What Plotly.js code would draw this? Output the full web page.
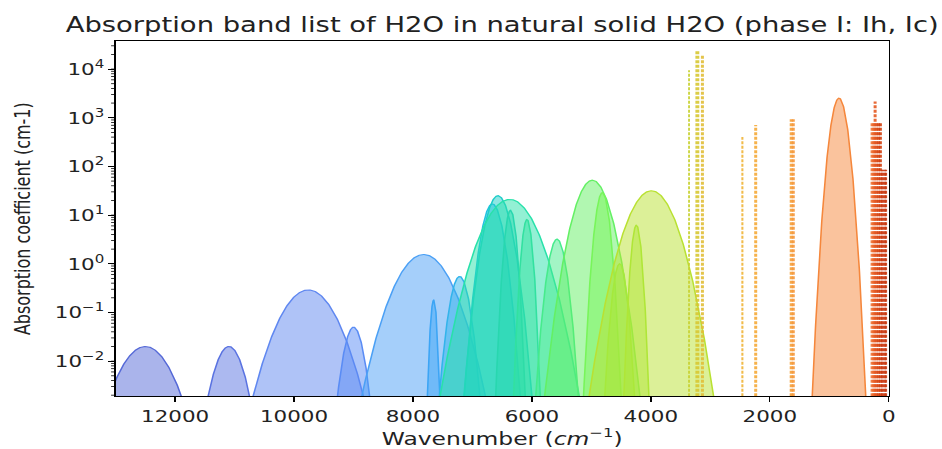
<!DOCTYPE html>
<html><head><meta charset="utf-8">
<script src="https://cdn.plot.ly/plotly-3.0.1.min.js"></script>
<style>
html,body{margin:0;padding:0;background:#fff;overflow:hidden;}
#wrap{width:942px;height:449px;overflow:hidden;}
#chart{width:725px;height:449px;transform:scaleX(1.29931);transform-origin:0 0;}
</style></head><body><div id="wrap"><div id="chart"></div></div>
<script>
// Band list (center wavenumber cm-1, peak absorption coefficient cm-1, half width at half max cm-1)
const bandCenter = [12500, 11095, 9760, 8998, 7820, 7652, 7215, 6665, 6571, 6374, 6360, 6083, 5578, 4984, 4815, 4524, 4243, 3991, 836];
const bandPeak   = [0.02, 0.02, 0.29, 0.05, 1.55, 0.18, 0.55, 17, 25, 21, 12.6, 8.1, 3.2, 52, 29, 1.0, 6.2, 31.6, 2520];
const bandHWHM   = [330, 190, 345, 125, 335, 42, 120, 130, 155, 320, 70, 65, 110, 209, 85, 84, 62, 280, 100];
// Narrow bands drawn as vertical lines
const lineCenter = [3358, 3218, 3133, 2461, 2237, 1640, 1605, 280, 250, 229, 200, 170, 140, 115, 90, 65, 45];
const linePeak   = [9400, 25000, 19700, 400, 713, 935, 935, 830, 830, 2150, 830, 830, 830, 85, 85, 85, 85];

const xTickVals = [0, 2000, 4000, 6000, 8000, 10000, 12000];
const xTickText = ['0', '2000', '4000', '6000', '8000', '10000', '12000'];
const yTickVals = [1e-2, 1e-1, 1, 10, 100, 1000, 10000];
const yTickText = ['10<sup>−2</sup>', '10<sup>−1</sup>', '10<sup>0</sup>', '10<sup>1</sup>', '10<sup>2</sup>', '10<sup>3</sup>', '10<sup>4</sup>'];

// styles
const bandColor = ['#5569d7', '#5a73e1', '#5f87f0', '#5a8cf5', '#4ba0f5', '#3ca5f5', '#32b4eb', '#23c3e1', '#1ecdc8', '#28e1aa', '#28d7af', '#32e1a0', '#46eb8c', '#64f064', '#78f55a', '#91f046', '#a5eb3c', '#b9e132', '#f5873c'];
const lineColor = ['#c8d232', '#d7c832', '#e1be37', '#f0b437', '#f5aa37', '#f5a037', '#f59637', '#f07030', '#eb6428', '#e45a22', '#dc4e1a', '#d74614', '#d2400f', '#c8370f', '#c8370f', '#c8370f', '#c8370f'];
const lineW = [1.5, 3, 2.3, 1.6, 2.3, 2.3, 2.3, 2.3, 2.3, 2.3, 2.3, 2.3, 2.3, 1.6, 1.6, 1.6, 1.6];

const FLOOR = 1e-3, N = 260;
function rgba(hex, a) {
  const r = parseInt(hex.slice(1, 3), 16), g = parseInt(hex.slice(3, 5), 16), b = parseInt(hex.slice(5, 7), 16);
  return `rgba(${r},${g},${b},${a})`;
}
const traces = [];
bandCenter.forEach((c, i) => {
  const A = bandPeak[i], w = bandHWHM[i];
  const ext = w * Math.sqrt(Math.log(A / FLOOR) / Math.LN2);
  const xs = [], ys = [];
  for (let k = 0; k <= N; k++) {
    const x = c - ext + 2 * ext * k / N;
    const d = (x - c) / w;
    xs.push(x);
    ys.push(A * Math.exp(-Math.LN2 * d * d));
  }
  traces.push({x: xs, y: ys, type: 'scatter', mode: 'lines', fill: 'toself',
    fillcolor: rgba(bandColor[i], 0.5), line: {color: bandColor[i], width: 1.2},
    hoverinfo: 'skip', showlegend: false});
});
lineCenter.forEach((c, i) => {
  traces.push({x: [c, c], y: [FLOOR, linePeak[i]], type: 'scatter', mode: 'lines',
    line: {color: lineColor[i], width: lineW[i], dash: '3px,1.5px'}, opacity: 0.9,
    hoverinfo: 'skip', showlegend: false});
});

const font = 'DejaVu Sans, sans-serif';
const layout = {
  width: 725, height: 449,
  margin: {l: 89, r: 41, t: 41, b: 53},
  paper_bgcolor: '#fff', plot_bgcolor: '#fff',
  font: {family: font, size: 16.5, color: '#222'},
  title: {text: 'Absorption band list of H2O in natural solid H2O (phase I: Ih, Ic)',
    font: {family: font, size: 21.1, color: '#222'}, xref: 'paper', x: 0.5, xanchor: 'center',
    yref: 'container', y: 1 - 25 / 449, yanchor: 'middle'},
  xaxis: {range: [13000, 0], tickmode: 'array', tickvals: xTickVals, ticktext: xTickText,
    ticks: 'outside', ticklen: 5, tickwidth: 1, tickcolor: '#000',
    showline: true, linecolor: '#000', linewidth: 1, mirror: true, showgrid: false, zeroline: false,
    tickfont: {family: font, size: 16.5, color: '#222'},
    title: {text: 'Wavenumber (<i>cm</i><sup>−1</sup>)', font: {family: font, size: 18, color: '#222'}, standoff: 4}},
  yaxis: {type: 'log', range: [-2.716, 4.576], tickmode: 'array', tickvals: yTickVals, ticktext: yTickText,
    ticks: 'outside', ticklen: 4.5, tickwidth: 1, tickcolor: '#000',
    minor: {dtick: 'D1', ticks: 'outside', ticklen: 2.5, tickwidth: 0.8, tickcolor: '#000', showgrid: false},
    showline: true, linecolor: '#000', linewidth: 1, mirror: true, showgrid: false, zeroline: false,
    tickfont: {family: font, size: 16.5, color: '#222'}},
  annotations: [{text: 'Absorption coefficient (cm-1)', textangle: -90, showarrow: false,
    xref: 'paper', yref: 'paper', x: (17.7 - 89) / 595, y: 0.5, xanchor: 'center', yanchor: 'middle',
    font: {family: font, size: 16, color: '#222'}}]
};
Plotly.newPlot('chart', traces, layout, {staticPlot: true, displayModeBar: false});
</script></body></html>
